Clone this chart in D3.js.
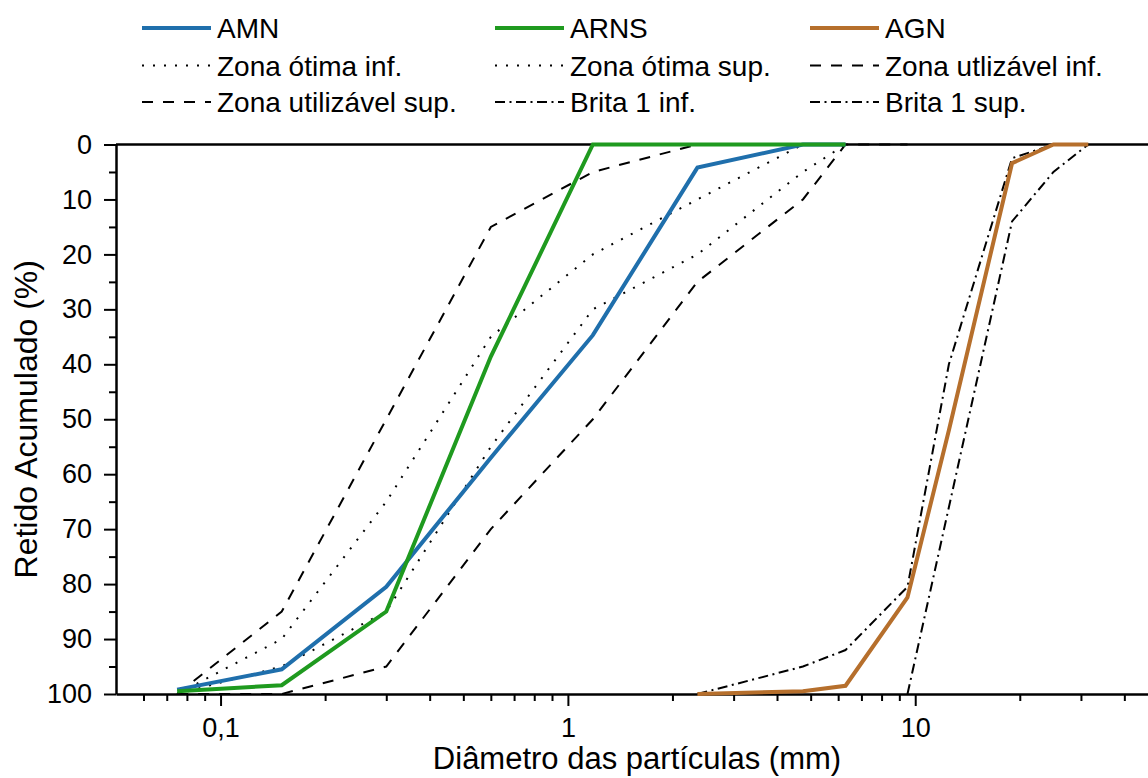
<!DOCTYPE html>
<html>
<head>
<meta charset="utf-8">
<script src="https://cdn.jsdelivr.net/npm/d3@7"></script>
<style>
  html, body { margin: 0; padding: 0; background: #fff; }
  svg { display: block; }
  text { font-family: "Liberation Sans", Arial, sans-serif; fill: #000; }
</style>
</head>
<body>
<svg id="chart" width="1148" height="778"></svg>
<script>
// ---------- DATA ----------
const sieveMM = [0.075, 0.15, 0.3, 0.6, 1.18, 2.36, 4.75, 6.3, 9.5, 12.5, 19, 25, 31.5];

const amn        = [99.2, 95.5, 80.5, 57, 34.7, 4.2, 0, 0, null, null, null, null, null];
const arns       = [99.5, 98.4, 85, 38.6, 0, 0, 0, 0, null, null, null, null, null];
const agn        = [null, null, null, null, null, 100, 99.5, 98.5, 82.4, 52, 3.4, 0, 0];
const otimaInf   = [100, 90, 65, 35, 20, 10, 0, null, null, null, null, null, null];
const otimaSup   = [100, 95, 85, 55, 30, 20, 5, 0, null, null, null, null, null];
const utilInf    = [100, 85, 50, 15, 5, 0, 0, null, null, null, null, null, null];
const utilSup    = [100, 100, 95, 70, 50, 25, 10, 0, 0, null, null, null, null];
const brita1Inf  = [null, null, null, null, null, 100, 95, 92, 80.5, 40, 2.5, 0, 0];
const brita1Sup  = [null, null, null, null, null, null, null, null, 100, 66, 14, 5, 0];

const xMajorTicks = [0.1, 1, 10];
const xTickLabels = ["0,1", "1", "10"];
const xMinorTicks = [0.06, 0.07, 0.08, 0.09, 0.2, 0.3, 0.4, 0.5, 0.6, 0.7, 0.8, 0.9,
                     2, 3, 4, 5, 6, 7, 8, 9, 20, 30, 40];
const yMajorTicks = [0, 10, 20, 30, 40, 50, 60, 70, 80, 90, 100];
const yMinorTicks = [5, 15, 25, 35, 45, 55, 65, 75, 85, 95];

const xTitle = "Diâmetro das partículas (mm)";
const yTitle = "Retido Acumulado (%)";

// ---------- STYLES ----------
const BLUE = "#1f6fac", GREEN = "#1f9a1f", BROWN = "#b66f2c";
const DOT = "2,9", DASH = "11,10", DASHDOT = "10,4.5,2,4.5";

const series = [
  { name: "Zona ótima inf.",      values: otimaInf,  color: "#000", width: 2, dash: DOT },
  { name: "Zona ótima sup.",      values: otimaSup,  color: "#000", width: 2, dash: DOT },
  { name: "Zona utlizável inf.",  values: utilInf,   color: "#000", width: 2, dash: DASH },
  { name: "Zona utilizável sup.", values: utilSup,   color: "#000", width: 2, dash: DASH },
  { name: "Brita 1 inf.",         values: brita1Inf, color: "#000", width: 2, dash: DASHDOT },
  { name: "Brita 1 sup.",         values: brita1Sup, color: "#000", width: 2, dash: DASHDOT },
  { name: "AMN",  values: amn,  color: BLUE,  width: 4, dash: null },
  { name: "ARNS", values: arns, color: GREEN, width: 4, dash: null },
  { name: "AGN",  values: agn,  color: BROWN, width: 4, dash: null }
];

const legendOrder = [
  ["AMN", "ARNS", "AGN"],
  ["Zona ótima inf.", "Zona ótima sup.", "Zona utlizável inf."],
  ["Zona utilizável sup.", "Brita 1 inf.", "Brita 1 sup."]
];

// ---------- CHART ----------
(function () {
const svg = d3.select("#chart");
const pL = 116, pR = 1158, pT = 144.5, pB = 694;

const x = d3.scaleLog().domain([0.05, 50]).range([pL, pR]);
const y = d3.scaleLinear().domain([0, 100]).range([pT, pB]);

svg.append("g")
  .attr("transform", `translate(0,${pB})`)
  .call(d3.axisBottom(x).tickValues(xMinorTicks).tickSize(7).tickSizeOuter(0).tickFormat(""))
  .call(g => g.select(".domain").remove())
  .call(g => g.selectAll("line").attr("stroke-width", 2));

svg.append("g")
  .attr("transform", `translate(0,${pB})`)
  .call(d3.axisBottom(x).tickValues(xMajorTicks).tickSize(12).tickSizeOuter(0)
        .tickPadding(12).tickFormat((d, i) => xTickLabels[i]))
  .call(g => g.select(".domain").attr("stroke-width", 2.5))
  .call(g => g.selectAll("line").attr("stroke-width", 2))
  .call(g => g.selectAll("text").attr("font-size", 27).attr("fill", "#000"));

svg.append("g")
  .attr("transform", `translate(${pL},0)`)
  .call(d3.axisLeft(y).tickValues(yMinorTicks).tickSize(7).tickSizeOuter(0).tickFormat(""))
  .call(g => g.select(".domain").remove())
  .call(g => g.selectAll("line").attr("stroke-width", 2));

svg.append("g")
  .attr("transform", `translate(${pL},0)`)
  .call(d3.axisLeft(y).tickValues(yMajorTicks).tickSize(12).tickSizeOuter(0)
        .tickPadding(12).tickFormat(d3.format("d")))
  .call(g => g.select(".domain").attr("stroke-width", 2.5))
  .call(g => g.selectAll("line").attr("stroke-width", 2))
  .call(g => g.selectAll("text").attr("font-size", 27).attr("fill", "#000"));

svg.append("line").attr("x1", pL).attr("x2", pR).attr("y1", pT).attr("y2", pT)
  .attr("stroke", "#000").attr("stroke-width", 2.5);
svg.append("line").attr("x1", pR).attr("x2", pR).attr("y1", pT).attr("y2", pB)
  .attr("stroke", "#000").attr("stroke-width", 2.5);

const line = d3.line()
  .x(d => x(d[0]))
  .y(d => y(d[1]));

series.forEach(s => {
  const pts = sieveMM.map((v, i) => [v, s.values[i]]).filter(p => p[1] !== null);
  svg.append("path")
    .datum(pts)
    .attr("d", line)
    .attr("fill", "none")
    .attr("stroke", s.color)
    .attr("stroke-width", s.width)
    .attr("stroke-linejoin", "miter")
    .attr("stroke-dasharray", s.dash);
});

svg.append("text")
  .attr("x", (pL + pR) / 2).attr("y", 769)
  .attr("text-anchor", "middle").attr("font-size", 31)
  .text(xTitle);

svg.append("text")
  .attr("transform", `translate(37,${(pT + pB) / 2}) rotate(-90)`)
  .attr("text-anchor", "middle").attr("font-size", 32)
  .text(yTitle);

const colX = [142, 495, 810];
const rowY = [38, 75.5, 112];
const lineLen = 69;
legendOrder.forEach((row, r) => {
  row.forEach((name, c) => {
    const s = series.find(d => d.name === name);
    const g = svg.append("g");
    g.append("line")
      .attr("x1", colX[c]).attr("x2", colX[c] + lineLen)
      .attr("y1", rowY[r] - 10).attr("y2", rowY[r] - 10)
      .attr("stroke", s.color).attr("stroke-width", s.width)
      .attr("stroke-dasharray", s.dash);
    g.append("text")
      .attr("x", colX[c] + lineLen + 6).attr("y", rowY[r])
      .attr("font-size", 28)
      .text(name);
  });
});
})();
</script>
</body>
</html>
